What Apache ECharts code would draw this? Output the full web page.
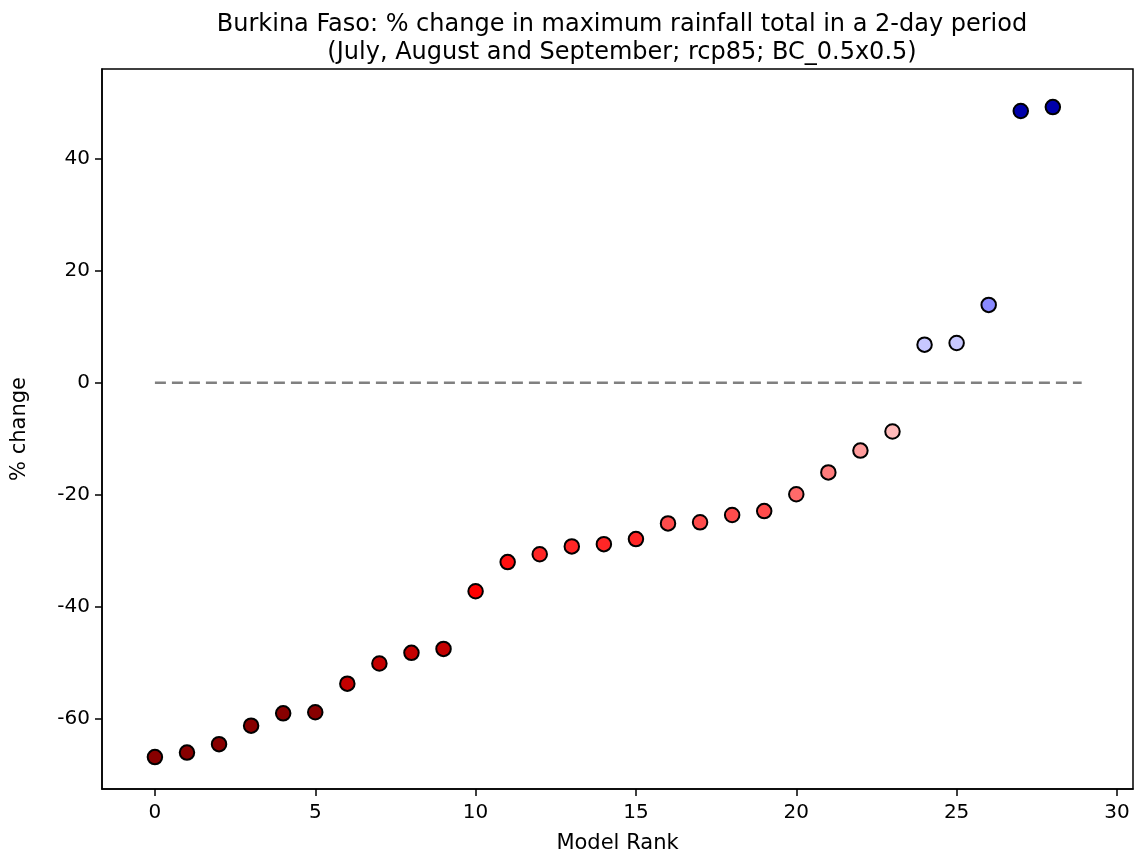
<!DOCTYPE html>
<html>
<head>
<meta charset="utf-8">
<script src="https://cdn.jsdelivr.net/npm/echarts@6/dist/echarts.min.js"></script>
<style>
  html, body { margin: 0; padding: 0; background: #fff; }
  #chart { width: 1135px; height: 859px; }
</style>
</head>
<body>
<div id="chart"></div>
<script>
// model rank along x, % change along y
const ranks = [0, 1, 2, 3, 4, 5, 6, 7, 8, 9, 10, 11, 12, 13, 14, 15, 16, 17, 18, 19, 20, 21, 22, 23, 24, 25, 26, 27, 28];
const changes = [-66.8, -66.0, -64.5, -61.2, -59.0, -58.8, -53.7, -50.1, -48.2, -47.5,
  -37.2, -32.0, -30.6, -29.2, -28.8, -27.9, -25.1, -24.9, -23.6, -22.9,
  -19.9, -16.0, -12.1, -8.7, 6.8, 7.1, 13.9, 48.5, 49.2];
const xTicks = [0, 5, 10, 15, 20, 25, 30];
const yTicks = [-60, -40, -20, 0, 20, 40];
const zeroLineX = [0, 28.9];

const TITLE = 'Burkina Faso: % change in maximum rainfall total in a 2-day period\n(July, August and September; rcp85; BC_0.5x0.5)';
const FONT = 'DejaVu Sans';

const chart = echarts.init(document.getElementById('chart'));

const tickStyle = { show: true, length: 7, inside: false, lineStyle: { color: '#000', width: 1.5 } };

const option = {
  backgroundColor: '#fff',
  animation: false,
  textStyle: { fontFamily: FONT },
  title: {
    text: TITLE,
    left: 617,
    textAlign: 'center',
    top: 6,
    textStyle: { fontFamily: FONT, fontSize: 24, fontWeight: 'normal', color: '#000', lineHeight: 28 }
  },
  grid: {
    left: 102, right: 2, top: 69, bottom: 67,
    show: true, borderColor: '#000', borderWidth: 1.5, backgroundColor: 'transparent'
  },
  xAxis: {
    type: 'value',
    min: -1.65,
    max: 30.5,
    name: 'Model Rank',
    nameLocation: 'middle',
    nameGap: 44,
    nameTextStyle: { fontFamily: FONT, fontSize: 21, color: '#000' },
    splitLine: { show: false },
    axisLine: { show: true, onZero: false, lineStyle: { color: '#000', width: 1.5 } },
    axisTick: Object.assign({ customValues: xTicks }, tickStyle),
    axisLabel: { fontFamily: FONT, fontSize: 20, color: '#000', margin: 14, customValues: xTicks }
  },
  yAxis: {
    type: 'value',
    min: -72.5,
    max: 56,
    name: '% change',
    nameLocation: 'middle',
    nameGap: 72,
    nameTextStyle: { fontFamily: FONT, fontSize: 21, color: '#000' },
    splitLine: { show: false },
    axisLine: { show: true, onZero: false, lineStyle: { color: '#000', width: 1.5 } },
    axisTick: Object.assign({ customValues: yTicks }, tickStyle),
    axisLabel: { fontFamily: FONT, fontSize: 20, color: '#000', margin: 12, customValues: yTicks }
  },
  visualMap: {
    type: 'piecewise',
    show: false,
    seriesIndex: 1,
    dimension: 1,
    pieces: [
      { lt: -55, color: '#880000' },
      { gte: -55, lt: -40, color: '#c40000' },
      { gte: -40, lt: -35, color: '#ff0000' },
      { gte: -35, lt: -31, color: '#ff1010' },
      { gte: -31, lt: -26, color: '#ff2626' },
      { gte: -26, lt: -21, color: '#ff4c4c' },
      { gte: -21, lt: -18, color: '#ff6a6a' },
      { gte: -18, lt: -14, color: '#ff7c7c' },
      { gte: -14, lt: -10, color: '#ff9c9c' },
      { gte: -10, lt: 0, color: '#ffbaba' },
      { gte: 0, lt: 10, color: '#c8c8ff' },
      { gte: 10, lt: 30, color: '#8a8aff' },
      { gte: 30, color: '#0000aa' }
    ]
  },
  series: [
    {
      type: 'line',
      data: zeroLineX.map(x => [x, 0]),
      showSymbol: false,
      symbol: 'none',
      lineStyle: { color: '#808080', width: 2.5, type: [11, 6] },
      z: 1,
      silent: true
    },
    {
      type: 'scatter',
      data: ranks.map((r, i) => [r, changes[i]]),
      symbol: 'circle',
      symbolSize: 14.5,
      itemStyle: { borderColor: '#000', borderWidth: 2, opacity: 1 },
      z: 3
    }
  ]
};

chart.setOption(option);
</script>
</body>
</html>
